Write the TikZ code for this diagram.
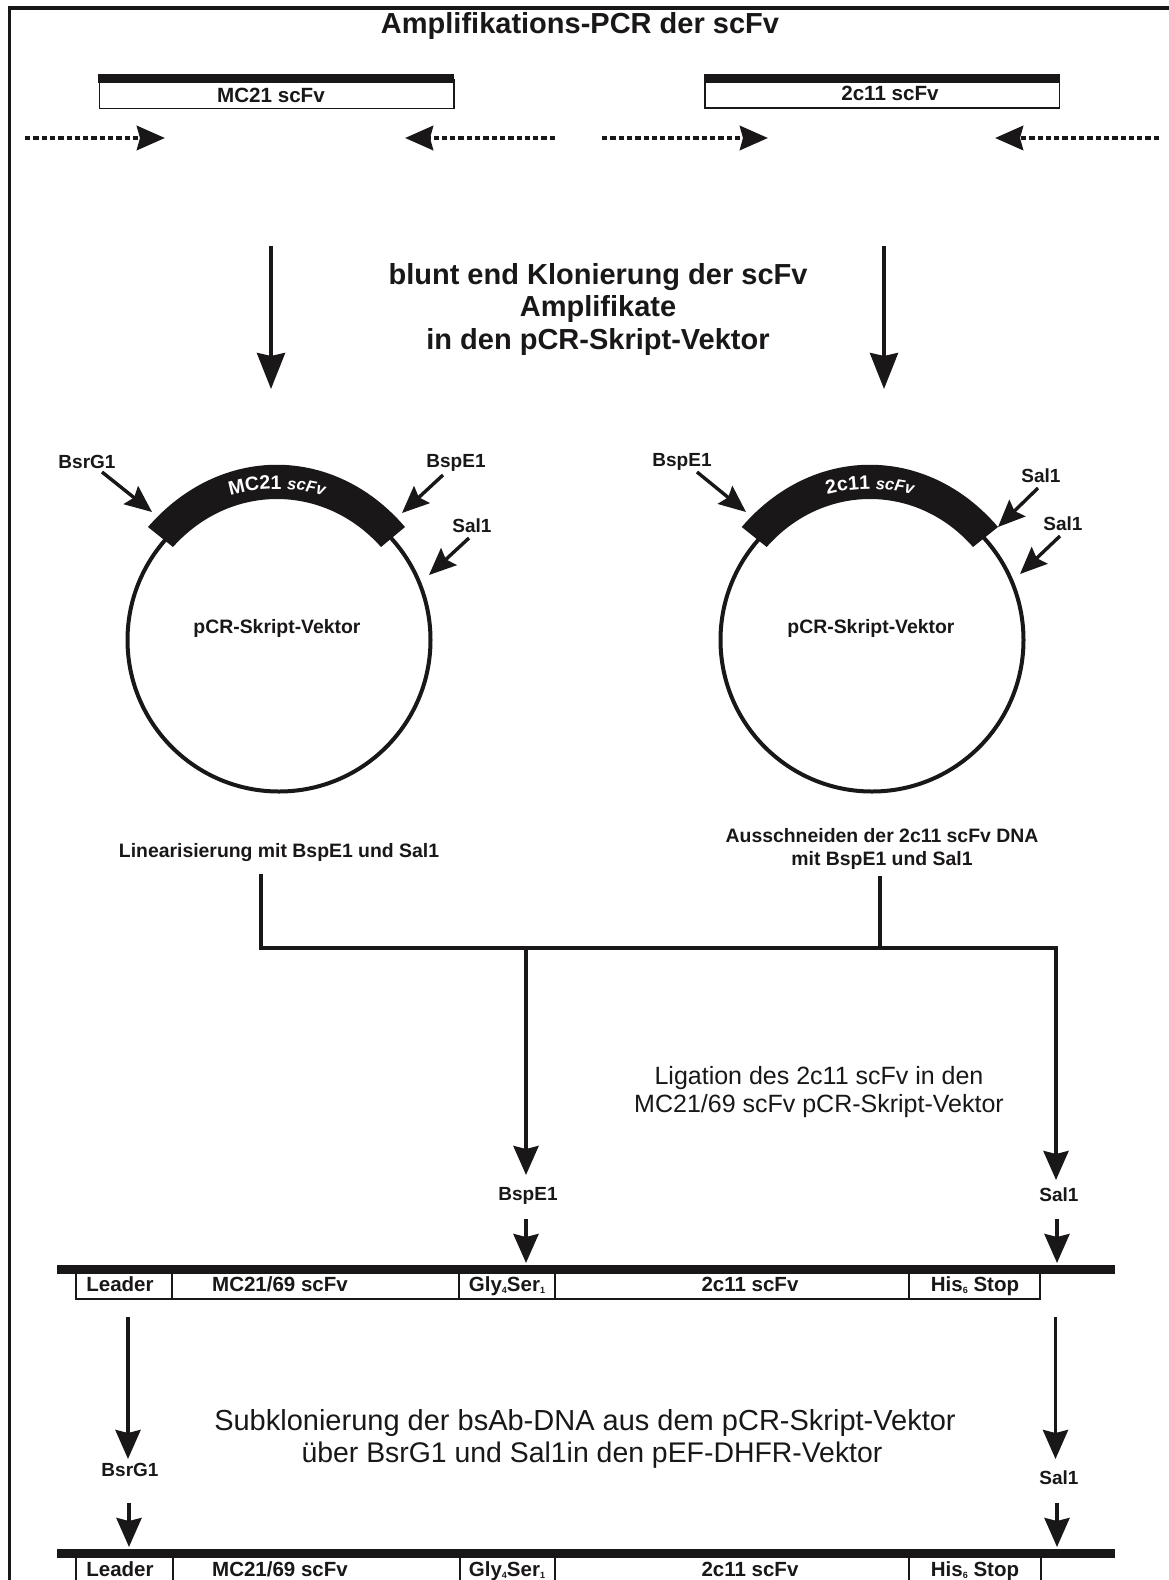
\documentclass[tikz,border=0pt]{standalone}
\usepackage{fontspec}
\setmainfont{Liberation Sans}
\usetikzlibrary{arrows.meta,decorations.text}
\definecolor{inkc}{HTML}{1A1718}
\newcommand{\lowidx}[1]{\raisebox{-2.5pt}{\fontsize{9}{9}\selectfont #1}}
\tikzset{
  x=1pt,y=-1pt,
  ink/.style={draw=inkc,line width=3.8pt},
  solidbar/.style={fill=inkc,draw=none},
  longarrow/.style={draw=inkc,line width=3.8pt,-{Stealth[length=36pt,width=28pt,inset=3pt,fill=inkc]}},
  bigarrow/.style={draw=inkc,line width=3.8pt,-{Stealth[length=29pt,width=25pt,inset=3pt,fill=inkc]}},
  smallarrow/.style={draw=inkc,line width=3.4pt,-{Stealth[length=27pt,width=23pt,inset=4pt,fill=inkc]}},
  dotarrow/.style={draw=inkc,line width=4.8pt,dash pattern=on 5.3pt off 3pt,-{Stealth[length=28pt,width=24pt,inset=3pt,fill=inkc]}},
  boxcell/.style={draw=inkc,line width=1.8pt,fill=white},
  ttl/.style={font=\bfseries\fontsize{29}{32.5}\selectfont,align=center,text=inkc},
  site/.style={font=\bfseries\fontsize{19}{22}\selectfont,text=inkc},
  lab/.style={font=\bfseries\fontsize{19.4}{23}\selectfont,text=inkc,align=center},
  note/.style={font=\fontsize{25}{28}\selectfont,text=inkc,align=center},
  subnote/.style={font=\fontsize{29}{32}\selectfont,text=inkc,align=center},
  cell/.style={font=\bfseries\fontsize{20.5}{22}\selectfont,text=inkc,anchor=base},
}
\begin{document}
\begin{tikzpicture}
\useasboundingbox (0,0) rectangle (1168,1580);
\fill[white] (0,0) rectangle (1168,1580);
% frame
\draw[ink] (9.5,1582) -- (9.5,8) -- (1170,8);
\node[ttl] (title) at (580,26) {Amplifikations-PCR der scFv};
% top templates
\draw[boxcell] (99.5,80) rectangle (454,108.5);
\fill[solidbar] (98,74) rectangle (454,83);
\node[lab,font=\bfseries\fontsize{20.6}{23}\selectfont] (mc) at (271,95) {MC21 scFv};
\draw[boxcell] (705,80) rectangle (1059.5,108);
\fill[solidbar] (704,74) rectangle (1060,83);
\node[lab,font=\bfseries\fontsize{20.6}{23}\selectfont] (tc) at (890,93) {2c11 scFv};
% primers
\coordinate (p1a) at (25,138);\coordinate (p1b) at (165,138);
\coordinate (p2a) at (555,138);\coordinate (p2b) at (405,138);
\coordinate (p3a) at (602,138);\coordinate (p3b) at (768,138);
\coordinate (p4a) at (1159,138);\coordinate (p4b) at (995,138);
\draw[dotarrow] (p1a) -- (p1b);
\draw[dotarrow] (p2a) -- (p2b);
\draw[dotarrow] (p3a) -- (p3b);
\draw[dotarrow] (p4a) -- (p4b);
% big arrows
\coordinate (a1a) at (271,246);\coordinate (a1b) at (271,389);
\coordinate (a2a) at (884,246);\coordinate (a2b) at (884,389);
\draw[longarrow] (a1a) -- (a1b);
\draw[longarrow] (a2a) -- (a2b);
\node[ttl] (blunt) at (598,309) {blunt end Klonierung der scFv\\Amplifikate\\ in den pCR-Skript-Vektor};
% plasmids
\draw[draw=inkc,line width=4pt] (279,640) circle (151.5);
\draw[draw=inkc,line width=4pt] (872,640) circle (151.5);
\fill[solidbar] (148,527) .. controls (220,444) and (334,444) .. (405,527) -- (381,547) .. controls (324,483) and (230,483) .. (173,547) -- cycle;
\fill[solidbar] (741.7,527) .. controls (813,444) and (927,444) .. (998,527) -- (973,547) .. controls (917,483) and (823,483) .. (766.7,547) -- cycle;
\path[postaction={decorate,decoration={text along path,text align=center,text color=white,
  text={|\fontsize{19.5}{20}\selectfont\bfseries|MC21 |\fontsize{16.5}{17}\selectfont\bfseries\itshape|scFv}}}]
  (222,498) .. controls (255,486) and (298,486) .. (332,498);
\path[postaction={decorate,decoration={text along path,text align=center,text color=white,
  text={|\fontsize{19.5}{20}\selectfont\bfseries|2c11 |\fontsize{16.5}{17}\selectfont\bfseries\itshape|scFv}}}]
  (815,498) .. controls (848,486) and (891,486) .. (925,498);
\node[lab] (v1) at (277,628) {pCR-Skript-Vektor};
\node[lab] (v2) at (871,628) {pCR-Skript-Vektor};
% restriction sites on plasmids
\node[site] (s1) at (87,462) {BsrG1};
\node[site] (s2) at (456,463) {BspE1};
\node[site] (s3) at (472,526) {Sal1};
\node[site] (s4) at (682,462) {BspE1};
\node[site] (s5) at (1041,476) {Sal1};
\node[site] (s6) at (1063,524) {Sal1};
\coordinate (t1a) at (102,472);\coordinate (t1b) at (152,512);
\coordinate (t2a) at (443,475);\coordinate (t2b) at (402,513);
\coordinate (t3a) at (469,538);\coordinate (t3b) at (429,575);
\coordinate (t4a) at (697,472);\coordinate (t4b) at (746,512);
\coordinate (t5a) at (1038,488);\coordinate (t5b) at (998,527);
\coordinate (t6a) at (1060,536);\coordinate (t6b) at (1020,574);
\foreach \n in {1,...,6} {\draw[smallarrow] (t\n a) -- (t\n b);}
% captions
\node[lab] (lin) at (279,853) {Linearisierung mit BspE1 und Sal1};
\node[lab] (aus) at (882,849) {Ausschneiden der 2c11 scFv DNA\\mit BspE1 und Sal1};
% ligation tree
\coordinate (j1) at (261,876);\coordinate (j2) at (261,948);
\coordinate (j3) at (880,876);\coordinate (j4) at (880,948);
\coordinate (j5) at (1056,948);\coordinate (j6) at (526,948);
\coordinate (j7) at (526,1175);\coordinate (j8) at (1056,1180);
\draw[ink,line cap=rect] (j1) -- (j2) -- (j5);
\draw[ink] (j3) -- (j4);
\draw[bigarrow] (j6) -- (j7);
\draw[bigarrow] (j5) -- (j8);
\node[note] (lig) at (819,1092) {Ligation des 2c11 scFv in den\\MC21/69 scFv pCR-Skript-Vektor};
\node[site] (b1) at (528,1196) {BspE1};
\node[site] (b2) at (1059,1195) {Sal1};
\coordinate (k1a) at (526,1219);\coordinate (k1b) at (526,1263);
\coordinate (k2a) at (1057,1219);\coordinate (k2b) at (1057,1263);
\draw[bigarrow] (k1a) -- (k1b);
\draw[bigarrow] (k2a) -- (k2b);
% construct 1
\draw[boxcell] (76,1270) rectangle (172,1299);
\draw[boxcell] (172,1270) rectangle (459,1299);
\draw[boxcell] (459,1270) rectangle (555,1299);
\draw[boxcell] (555,1270) rectangle (909,1299);
\draw[boxcell] (909,1270) rectangle (1040,1299);
\fill[solidbar] (57,1265) rectangle (1115,1274);
\node[cell] (c1) at (120,1291) {Leader};
\node[cell] (c2) at (280,1291) {MC21/69 scFv};
\node[cell] (c3) at (507,1291) {Gly\lowidx{4}Ser\lowidx{1}};
\node[cell] (c4) at (750,1291) {2c11 scFv};
\node[cell] (c5) at (975,1291) {His\lowidx{6} Stop};
% sub cloning
\coordinate (m1a) at (128,1317);\coordinate (m1b) at (128,1459);
\coordinate (m2a) at (1055.5,1317);\coordinate (m2b) at (1055.5,1459);
\draw[bigarrow] (m1a) -- (m1b);
\draw[bigarrow] (m2a) -- (m2b);
\node[subnote] (sub1) at (585,1423) {Subklonierung der bsAb-DNA aus dem pCR-Skript-Vektor};
\node[subnote,font=\fontsize{28.4}{32}\selectfont] (sub2) at (592,1455) {über BsrG1 und Sal1in den pEF-DHFR-Vektor};
\node[site] (d1) at (130,1470) {BsrG1};
\node[site] (d2) at (1059,1478) {Sal1};
\coordinate (n1a) at (129,1503);\coordinate (n1b) at (129,1547);
\coordinate (n2a) at (1057,1503);\coordinate (n2b) at (1057,1547);
\draw[bigarrow] (n1a) -- (n1b);
\draw[bigarrow] (n2a) -- (n2b);
% construct 2
\draw[boxcell] (76,1552) rectangle (173,1590);
\draw[boxcell] (173,1552) rectangle (460,1590);
\draw[boxcell] (460,1552) rectangle (555,1590);
\draw[boxcell] (555,1552) rectangle (909,1590);
\draw[boxcell] (909,1552) rectangle (1041,1590);
\fill[solidbar] (57,1549) rectangle (1115,1558);
\node[cell] (e1) at (120,1576) {Leader};
\node[cell] (e2) at (280,1576) {MC21/69 scFv};
\node[cell] (e3) at (507,1576) {Gly\lowidx{4}Ser\lowidx{1}};
\node[cell] (e4) at (750,1576) {2c11 scFv};
\node[cell] (e5) at (975,1576) {His\lowidx{6} Stop};
\end{tikzpicture}
\end{document}
